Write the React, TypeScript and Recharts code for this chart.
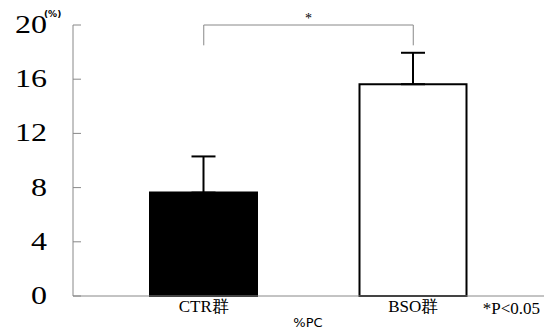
import { BarChart, Bar, XAxis, YAxis, Cell, ErrorBar, ReferenceLine, Label } from "recharts";

const groups = ["CTR群", "BSO群"];
const means = [7.63, 15.63];
const errors = [2.67, 2.32];
const yTicks = [0, 4, 8, 12, 16, 20];
const fills = ["#000000", "#ffffff"];

const data = groups.map((g, i) => ({ group: g, mean: means[i], err: [0, errors[i]] }));

const serif = "'Liberation Serif', 'DejaVu Serif', serif";

function YTick(props: any) {
  const { x, y, payload } = props;
  const label = String(payload.value);
  return (
    <g>
      <line x1={x} x2={x + 8} y1={y} y2={y} stroke="#888" strokeWidth={1} />
      <text
        x={x - 26}
        y={y + 2}
        textAnchor="end"
        dominantBaseline="middle"
        fontFamily={serif}
        fontSize={26}
        fill="#000"
        textLength={label.length * 16}
        lengthAdjust="spacingAndGlyphs"
      >
        {label}
      </text>
      {payload.value === 20 && (
        <text x={x - 29} y={y - 8} fontFamily="'DejaVu Sans', sans-serif" fontSize={9} fontWeight="bold" fill="#000">
          (%)
        </text>
      )}
    </g>
  );
}

function XTick(props: any) {
  const { x, y, payload } = props;
  return (
    <text x={x} y={y + 8} textAnchor="middle" fontFamily={serif} fontSize={17} fill="#000">
      {payload.value}
    </text>
  );
}

export default function App() {
  return (
    <div style={{ position: "absolute", left: 0, top: 0, background: "#fff" }}>
      <BarChart width={544} height={333} data={data} margin={{ top: 25, right: 0, bottom: 0, left: 0 }}>
        <XAxis
          dataKey="group"
          height={37}
          padding={{ left: 26, right: 26 }}
          axisLine={{ stroke: "#888" }}
          tickLine={false}
          tick={<XTick />}
          interval={0}
        >
          <Label
            content={(p: any) => {
              const vb = p.viewBox;
              return (
                <g>
                  <text x={308} y={vb.y + 31} textAnchor="middle" fontFamily="'DejaVu Sans', sans-serif" fontSize={13} fill="#000">
                    %PC
                  </text>
                  <text x={540} y={vb.y + 18} textAnchor="end" fontFamily={serif} fontSize={17} fill="#000">
                    *P&lt;0.05
                  </text>
                </g>
              );
            }}
          />
        </XAxis>
        <YAxis
          width={73}
          domain={[0, 20]}
          ticks={yTicks}
          axisLine={{ stroke: "#888" }}
          tickLine={false}
          tickSize={0}
          tickMargin={0}
          tick={<YTick />}
        />
        <ReferenceLine
          segment={[{ x: groups[0], y: 20 }, { x: groups[1], y: 20 }]}
          stroke="#888"
          ifOverflow="visible"
          label={{ value: "*", position: "top", fill: "#000", fontSize: 14, offset: 2 }}
        />
        <ReferenceLine segment={[{ x: groups[0], y: 20 }, { x: groups[0], y: 18.5 }]} stroke="#888" ifOverflow="visible" />
        <ReferenceLine segment={[{ x: groups[1], y: 20 }, { x: groups[1], y: 18.5 }]} stroke="#888" ifOverflow="visible" />
        <Bar dataKey="mean" barSize={107} stroke="#000" strokeWidth={2} isAnimationActive={false}>
          {data.map((d, i) => (
            <Cell key={d.group} fill={fills[i]} />
          ))}
          <ErrorBar dataKey="err" width={12} stroke="#000" strokeWidth={2} direction="y" />
        </Bar>
      </BarChart>
    </div>
  );
}
